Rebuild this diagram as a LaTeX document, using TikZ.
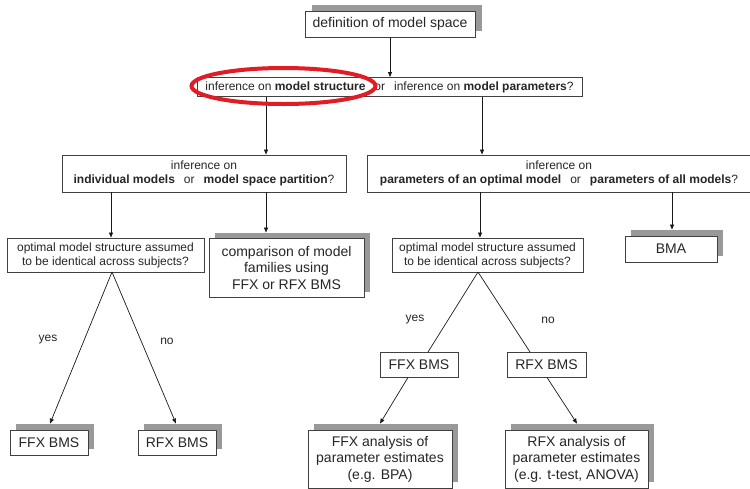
\documentclass[tikz,border=0pt]{standalone}
\usepackage{fontspec}
\setmainfont{Liberation Sans}
\usetikzlibrary{arrows.meta,shadows,calc}

\definecolor{ringred}{RGB}{226,28,36}

\tikzset{
  box/.style={draw=black!75, line width=0.9pt, fill=white, inner sep=0pt,
    align=center, text=black!85},
  shbox/.style={box, drop shadow={shadow xshift=6pt, shadow yshift=6pt,
    fill=black!40, opacity=1}},
  small/.style={font=\fontsize{12}{14}\selectfont},
  large/.style={font=\fontsize{14}{16.5}\selectfont},
  arr/.style={draw=black!90, line width=0.7pt, -{Triangle[length=5pt,width=4pt]}},
  link/.style={draw=black!90, line width=0.7pt},
  lbl/.style={text=black!85, inner sep=0pt, font=\fontsize{12}{14}\selectfont},
  ring/.style={draw=ringred, line width=4pt}
}

\begin{document}
\begin{tikzpicture}[x=1pt, y=-1pt]
\useasboundingbox (0,0) rectangle (750,488);

% boxes of the decision tree
\node[box, large, minimum width=170pt, minimum height=26pt,
  drop shadow={shadow xshift=7pt, shadow yshift=6pt, fill=black!40, opacity=1}]
  (top) at (390,24) {definition of model space};

\node[box, small, minimum width=385pt, minimum height=19pt] (q1) at (389.5,87)
  {inference on \textbf{model structure}\hspace{9pt}or\hspace{9pt}inference on \textbf{model parameters}?};

\node[box, small, minimum width=284pt, minimum height=37pt] (l3l) at (204,173.5)
  {inference on\\\textbf{individual models}\hspace{9pt}or\hspace{9pt}\textbf{model space partition}?};

\node[box, small, minimum width=388pt, minimum height=37pt] (l3r) at (561,173.5)
  {\hspace{-4pt}inference on\\\hspace{-4pt}\textbf{parameters of an optimal model}\hspace{9pt}or\hspace{9pt}\textbf{parameters of all models}?};

\node[box, small, minimum width=197pt, minimum height=34pt] (optl) at (105.5,255)
  {optimal model structure assumed\\to be identical across subjects?};

\node[box, large, minimum width=155pt, minimum height=59pt,
  drop shadow={shadow xshift=6pt, shadow yshift=5pt, fill=black!40, opacity=1}]
  (comp) at (286.5,267.5) {comparison of model\\families using\\FFX or RFX BMS};

\node[box, small, minimum width=191pt, minimum height=34pt] (optr) at (487.5,255)
  {optimal model structure assumed\\to be identical across subjects?};

\node[shbox, large, minimum width=92pt, minimum height=26pt] (bma) at (671,249) {BMA};

\node[shbox, large, minimum width=78pt, minimum height=25pt] (ffxl) at (49,442.5) {FFX BMS};
\node[shbox, large, minimum width=78pt, minimum height=25pt] (rfxl) at (177,442.5) {RFX BMS};

\node[box, large, minimum width=78pt, minimum height=25pt] (ffxm) at (419,364.5) {FFX BMS};
\node[box, large, minimum width=79pt, minimum height=25pt] (rfxm) at (546.5,364.5) {RFX BMS};

\node[shbox, large, minimum width=144pt, minimum height=58pt] (ffxa) at (380,459)
  {FFX analysis of\\parameter estimates\\(e.g. BPA)};
\node[shbox, large, minimum width=143pt, minimum height=58pt] (rfxa) at (576.5,459)
  {RFX analysis of\\parameter estimates\\(e.g. t-test, ANOVA)};

% x positions of the vertical connectors
\coordinate (xs) at (266,0);
\coordinate (xp) at (482,0);
\coordinate (xi) at (111,0);
\coordinate (xb) at (672,0);
\coordinate (xo) at (480,0);

% connectors
\draw[arr] (top.south) -- (top.south |- q1.north);
\draw[arr] (q1.south -| xs) -- (l3l.north -| xs);
\draw[arr] (q1.south -| xp) -- (l3r.north -| xp);
\draw[arr] (l3l.south -| xi) -- (optl.north -| xi);
\draw[arr] (l3l.south -| xs) -- ($(comp.north -| xs)+(0,-5)$);
\draw[arr] (l3r.south -| xo) -- (optr.north -| xo);
\draw[arr] (l3r.south -| xb) -- ($(bma.north -| xb)+(0,-6)$);

\coordinate (apl) at (112,272);
\draw[arr] (apl) -- ($(ffxl.north)+(1,-6)$);
\draw[arr] (apl) -- ($(rfxl.north)+(-1,-6)$);

\coordinate (apr) at (478,272);
\draw[link] (apr) -- (428,352);
\draw[link] (apr) -- (530,352);

\draw[arr] ($(ffxm.south)+(-11,0)$) -- ($(ffxa.north)+(0,-6)$);
\draw[arr] ($(rfxm.south)+(0.5,0)$) -- ($(rfxa.north)+(0.5,-6)$);

% branch labels
\node[lbl] (y1) at (48,340) {yes};
\node[lbl] (n1) at (167,341) {no};
\node[lbl] (y2) at (415,320) {yes};
\node[lbl] (n2) at (548,320) {no};

% highlight around the structure branch
\draw[ring] (283.5,86) ellipse [x radius=92, y radius=18];
\end{tikzpicture}
\end{document}
